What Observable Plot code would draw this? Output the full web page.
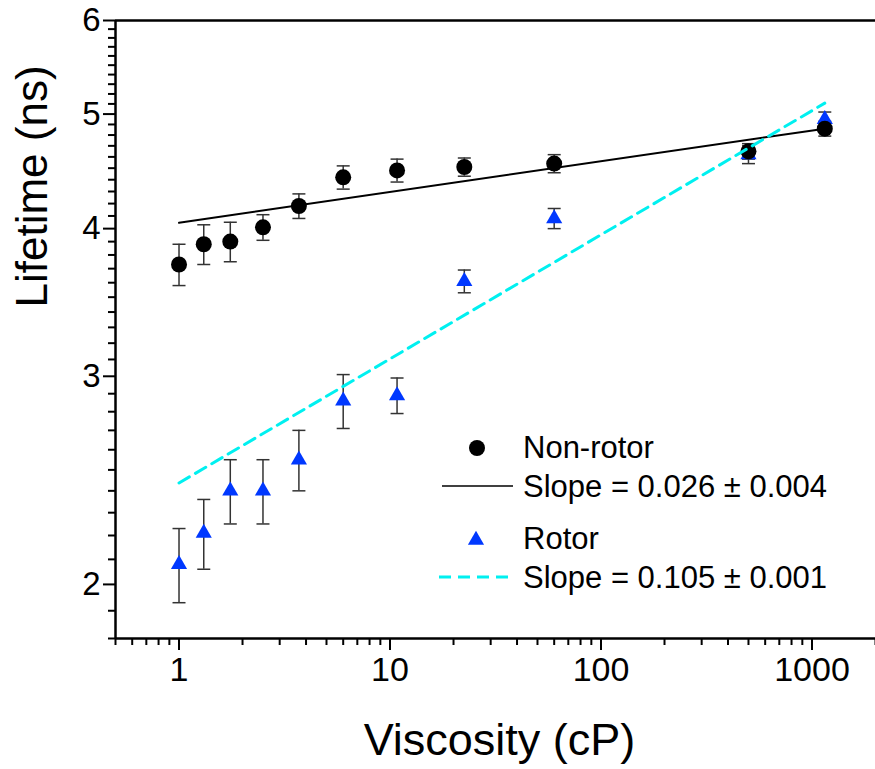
<!DOCTYPE html>
<html>
<head>
<meta charset="utf-8">
<script src="https://cdn.jsdelivr.net/npm/d3@7"></script>
<script src="https://cdn.jsdelivr.net/npm/@observablehq/plot@0.6"></script>
<style>
  html, body { margin: 0; padding: 0; background: #fff; }
  #chart { position: relative; width: 875px; height: 769px; }
</style>
</head>
<body>
<div id="chart"></div>
<script>
// ---- data ----
const viscosity = [1, 1.31, 1.75, 2.5, 3.7, 6, 10.8, 22.5, 60, 500, 1150];
const nonRotor    = [3.73, 3.88, 3.90, 4.01, 4.18, 4.42, 4.48, 4.51, 4.54, 4.65, 4.86];
const nonRotorErr = [0.15, 0.15, 0.15, 0.10, 0.10, 0.10, 0.10, 0.08, 0.08, 0.07, 0.07];
const rotor       = [2.08, 2.21, 2.40, 2.40, 2.55, 2.86, 2.89, 3.61, 4.08, 4.62, 4.95];
const rotorErr    = [0.15, 0.15, 0.15, 0.15, 0.15, 0.15, 0.10, 0.08, 0.08, 0.08, 0.07];

// power-law fits: lifetime = A * viscosity^slope
const fitNames      = ["Non-rotor", "Rotor"];
const fitSlope      = [0.026, 0.105];
const fitIntercept  = [4.046, 2.437];
const fitRange      = [1, 1150];
const legendLabels  = ["Non-rotor", "Slope = 0.026 \u00b1 0.004", "Rotor", "Slope = 0.105 \u00b1 0.001"];

// axes
const xDomain = [0.5, 2000];
const yDomain = [1.8, 6];
const xMajor = [1, 10, 100, 1000];
const yMajor = [2, 3, 4, 5, 6];
const xTitle = "Viscosity (cP)";
const yTitle = "Lifetime (ns)";

// ---- derived tables ----
const nonRotorData = viscosity.map((x, i) => ({x, y: nonRotor[i], lo: nonRotor[i] - nonRotorErr[i], hi: nonRotor[i] + nonRotorErr[i]}));
const rotorData = viscosity.map((x, i) => ({x, y: rotor[i], lo: rotor[i] - rotorErr[i], hi: rotor[i] + rotorErr[i]}));
const fitLines = fitNames.map((name, k) => fitRange.map(x => ({name, x, y: fitIntercept[k] * Math.pow(x, fitSlope[k])})));

const xMinor = [];
for (let e = -1; e <= 3; e++) for (let m = 2; m <= 9; m++) { const v = m * Math.pow(10, e); if (v >= xDomain[0] && v <= xDomain[1]) xMinor.push(v); }
const yMinor = d3.range(18, 61).map(d => d / 10).filter(v => !yMajor.includes(v));

const capSymbol = {
  draw(ctx, size) { const w = Math.sqrt(size / Math.PI); ctx.moveTo(-w, 0); ctx.lineTo(w, 0); }
};

const BLUE = "#0038ff";
const CYAN = "#00f0f0";
const ERR = "#333";
const FONT = "'Liberation Sans', Arial, sans-serif";

const plot = Plot.plot({
  width: 875,
  height: 769,
  marginLeft: 115,
  marginTop: 20,
  marginRight: 0,
  marginBottom: 131,
  style: {fontFamily: FONT, color: "#000", background: "#fff"},
  x: {type: "log", domain: xDomain},
  y: {type: "log", domain: yDomain},
  marks: [
    // minor ticks
    Plot.axisX(xMinor, {tickSize: 7, strokeWidth: 2, fill: "none", label: null}),
    Plot.axisY(yMinor, {tickSize: 7, strokeWidth: 2, fill: "none", label: null}),
    // major ticks + labels
    Plot.axisX(xMajor, {tickSize: 12, tickPadding: 6, strokeWidth: 2, fontSize: 34, tickFormat: d => String(d), label: null}),
    Plot.axisY(yMajor, {tickSize: 12, tickPadding: 3, strokeWidth: 2, fontSize: 33, tickFormat: d => String(d), label: null}),
    // frame lines (left, bottom, top)
    Plot.ruleX([xDomain[0]], {strokeWidth: 2.5}),
    Plot.ruleY([yDomain[0], yDomain[1]], {strokeWidth: 2.5}),
    // error bars
    Plot.ruleX(rotorData, {x: "x", y1: "lo", y2: "hi", stroke: ERR, strokeWidth: 1.5}),
    Plot.dot(rotorData, {x: "x", y: "lo", symbol: capSymbol, r: 6.5, stroke: ERR, strokeWidth: 1.5, fill: "none"}),
    Plot.dot(rotorData, {x: "x", y: "hi", symbol: capSymbol, r: 6.5, stroke: ERR, strokeWidth: 1.5, fill: "none"}),
    Plot.ruleX(nonRotorData, {x: "x", y1: "lo", y2: "hi", stroke: ERR, strokeWidth: 1.5}),
    Plot.dot(nonRotorData, {x: "x", y: "lo", symbol: capSymbol, r: 6.5, stroke: ERR, strokeWidth: 1.5, fill: "none"}),
    Plot.dot(nonRotorData, {x: "x", y: "hi", symbol: capSymbol, r: 6.5, stroke: ERR, strokeWidth: 1.5, fill: "none"}),
    // markers
    Plot.dot(rotorData, {x: "x", y: "y", symbol: "triangle", r: 6, fill: BLUE, stroke: null}),
    Plot.dot(nonRotorData, {x: "x", y: "y", r: 8, fill: "#000", stroke: null}),
    // fits
    Plot.line(fitLines[0], {x: "x", y: "y", stroke: "#000", strokeWidth: 2}),
    Plot.line(fitLines[1], {x: "x", y: "y", stroke: CYAN, strokeWidth: 3, strokeDasharray: "12,7"}),
    // axis titles
    Plot.text([xTitle], {text: d => d, frameAnchor: "bottom", dx: 4, dy: 116, fontSize: 45}),
    Plot.text([yTitle], {text: d => d, frameAnchor: "left", dx: -83, dy: -22, rotate: -90, fontSize: 44})
  ]
});

document.getElementById("chart").appendChild(plot);

// ---- legend (inside plot area) ----
const svg = d3.select(plot);
const lg = svg.append("g").attr("font-family", FONT).attr("font-size", 31).attr("fill", "#000").attr("text-anchor", "start");
const tx = 523;
lg.append("circle").attr("cx", 477).attr("cy", 448).attr("r", 8).attr("fill", "#000");
lg.append("text").attr("x", tx).attr("y", 458).text(legendLabels[0]);
lg.append("line").attr("x1", 442).attr("x2", 513).attr("y1", 486).attr("y2", 486).attr("stroke", "#000").attr("stroke-width", 1.5);
lg.append("text").attr("x", tx).attr("y", 497).text(legendLabels[1]);
lg.append("path").attr("d", d3.symbol(d3.symbolTriangle, Math.PI * 36)()).attr("transform", "translate(476,540)").attr("fill", BLUE);
lg.append("text").attr("x", tx).attr("y", 549).text(legendLabels[2]);
lg.append("line").attr("x1", 439).attr("x2", 508).attr("y1", 577).attr("y2", 577).attr("stroke", CYAN).attr("stroke-width", 3).attr("stroke-dasharray", "12,7");
lg.append("text").attr("x", tx).attr("y", 588).text(legendLabels[3]);
</script>
</body>
</html>
